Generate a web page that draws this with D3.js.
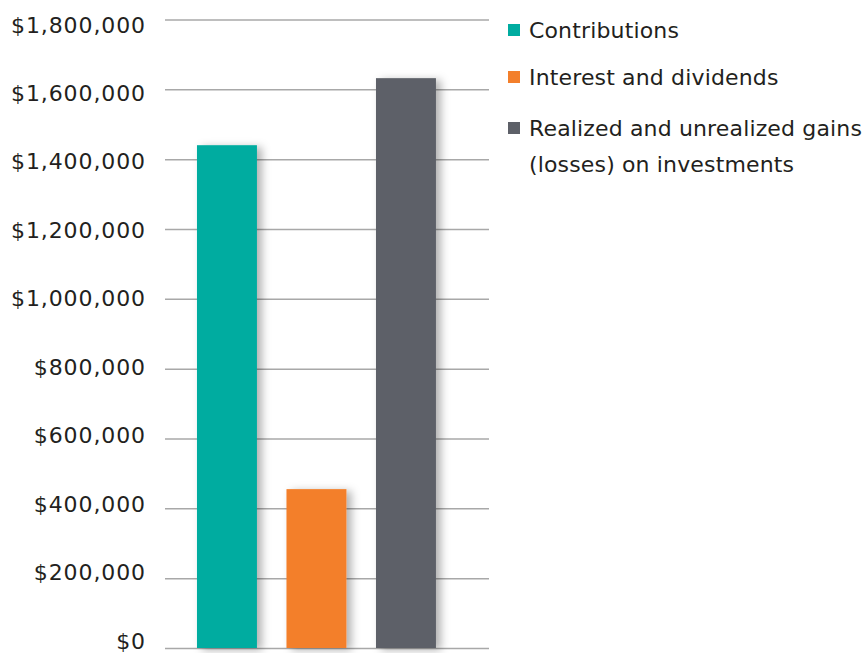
<!DOCTYPE html>
<html><head><meta charset="utf-8">
<script src="https://cdn.jsdelivr.net/npm/d3@7"></script>
<style>body{margin:0;background:#fff}svg{display:block}</style>
</head><body>
<script>
const categories = ["Contributions", "Interest and dividends", "Realized and unrealized gains (losses) on investments"];
const values = [1440000, 455000, 1632000];
const colors = ["#00aca0", "#f37f2b", "#5d6068"];
const legendLines = [["Contributions"], ["Interest and dividends"], ["Realized and unrealized gains", "(losses) on investments"]];
const tickValues = [0, 200000, 400000, 600000, 800000, 1000000, 1200000, 1400000, 1600000, 1800000];

const W = 865, H = 653;
const svg = d3.select("body").append("svg").attr("width", W).attr("height", H);
const defs = svg.append("defs");
const f = defs.append("filter").attr("id", "sh").attr("x", "-30%").attr("y", "-30%").attr("width", "170%").attr("height", "160%");
f.append("feDropShadow").attr("dx", 5).attr("dy", 2).attr("stdDeviation", 4).attr("flood-color", "#000").attr("flood-opacity", 0.3);

const y = d3.scaleLinear().domain([0, 1800000]).range([648, 19.5]);
// tick labels are spaced slightly tighter than the gridlines in the reference
const yLabel = d3.scaleLinear().domain([0, 1800000]).range([641, 25]);
const x = d3.scaleBand().domain(categories).range([165, 489]).paddingInner(0.33).paddingOuter(0.475).align(0.376);

const font = "'DejaVu Sans', sans-serif";
const fmt = v => "$" + d3.format(",")(v);

const axis = d3.axisLeft(y).tickValues(tickValues).tickFormat(fmt).tickSize(-(489 - 165)).tickPadding(19);
const g = svg.append("g").attr("transform", "translate(165,0)").call(axis);
g.select(".domain").remove();
g.selectAll(".tick line").attr("stroke", "#a8a8a8").attr("stroke-width", 1.5);
g.selectAll(".tick text").attr("fill", "#231f20").style("font-family", font).style("font-size", "22px")
  .style("letter-spacing", "0.9px")
  .attr("y", d => yLabel(d) - y(d));

svg.append("g").selectAll("rect").data(categories).join("rect")
  .attr("x", d => x(d)).attr("width", x.bandwidth())
  .attr("y", (d, i) => y(values[i])).attr("height", (d, i) => y(0) - y(values[i]))
  .attr("fill", (d, i) => colors[i]).attr("filter", "url(#sh)");

const leg = svg.append("g");
const legY = [30, 77, 128];
legendLines.forEach((lines, i) => {
  leg.append("rect").attr("x", 508).attr("y", legY[i] - 6).attr("width", 12).attr("height", 12).attr("fill", colors[i]);
  lines.forEach((t, j) => {
    leg.append("text").attr("x", 529).attr("y", legY[i] + j * 36).attr("dy", "0.35em")
      .attr("fill", "#231f20").style("font-family", font).style("font-size", "22px")
      .style("letter-spacing", "0.15px").text(t);
  });
});
</script>
</body></html>
